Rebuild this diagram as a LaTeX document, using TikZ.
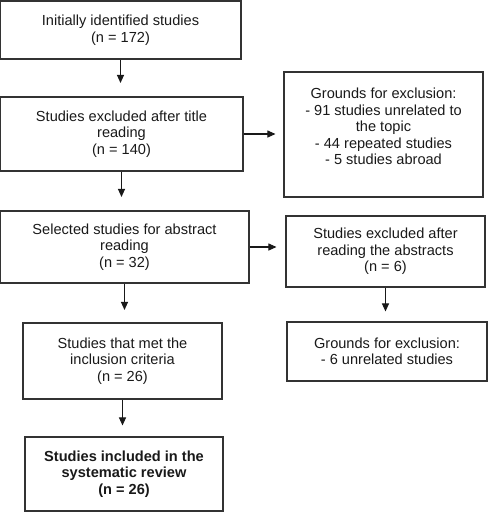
\documentclass[tikz,border=0pt]{standalone}
\usepackage{fontspec}
\setmainfont{Liberation Sans}
\usetikzlibrary{arrows.meta}

\tikzset{
  box/.style={draw=black!80, line width=0.6pt, align=center, inner sep=0pt,
    font=\fontsize{8.3}{9.4}\selectfont, text=black!90},
  flow/.style={-{Triangle[length=4.6pt,width=4pt]}, line width=0.6pt, draw=black!90}
}

\begin{document}
\begin{tikzpicture}[x=0.02cm,y=-0.02cm]
      \useasboundingbox (0,0) rectangle (489,512);
      \node[box, minimum width=4.82cm, minimum height=1.16cm] (11) at (120.5,30)
        {Initially identified studies\\(n = 172)};
      \node[box, minimum width=4.86cm, minimum height=1.48cm] (21) at (121.5,134)
        {Studies excluded after title\\reading\\(n = 140)};
      \node[box, minimum width=3.98cm, minimum height=2.5cm] (22) at (383.5,134.5)
        {Grounds for exclusion:\\- 91 studies unrelated to\\the topic\\- 44 repeated studies\\- 5 studies abroad\\ ~};
      \node[box, minimum width=4.98cm, minimum height=1.44cm] (31) at (124.5,247)
        {Selected studies for abstract\\reading\\(n = 32)};
      \node[box, minimum width=3.98cm, minimum height=1.42cm] (32) at (385.5,251.5)
        {Studies excluded after\\reading the abstracts\\(n = 6)};
      \node[box, minimum width=3.98cm, minimum height=1.52cm] (41) at (122.5,361)
        {Studies that met the\\inclusion criteria\\(n = 26)};
      \node[box, minimum width=4.0cm, minimum height=1.18cm] (42) at (387,351.5)
        {Grounds for exclusion:\\- 6 unrelated studies};
      \node[box, minimum width=3.96cm, minimum height=1.48cm, font=\fontsize{8.3}{9.4}\selectfont\bfseries] (51) at (124,474)
        {Studies included in the\\systematic review\\(n = 26)};
      % vertical lines
      \draw[flow, shorten >=0.27cm] (11.south) -- (11.south |- 21.north);
      \draw[flow, shorten >=0.27cm] (21.south) -- (21.south |- 31.north);
      \draw[flow, shorten >=0.25cm] (31.south) -- (31.south |- 41.north);
      \draw[flow, shorten >=0.22cm] (41.south) -- (41.south |- 51.north);
      \draw[flow, shorten >=0.2cm] (32.south) -- (32.south |- 42.north);
      % horizontal lines
      \draw[flow, shorten >=0.16cm] (21.east) -- (21.east -| 22.west);
      \draw[flow, shorten >=0.18cm] (31.east) -- (31.east -| 32.west);
    \end{tikzpicture}
\end{document}
